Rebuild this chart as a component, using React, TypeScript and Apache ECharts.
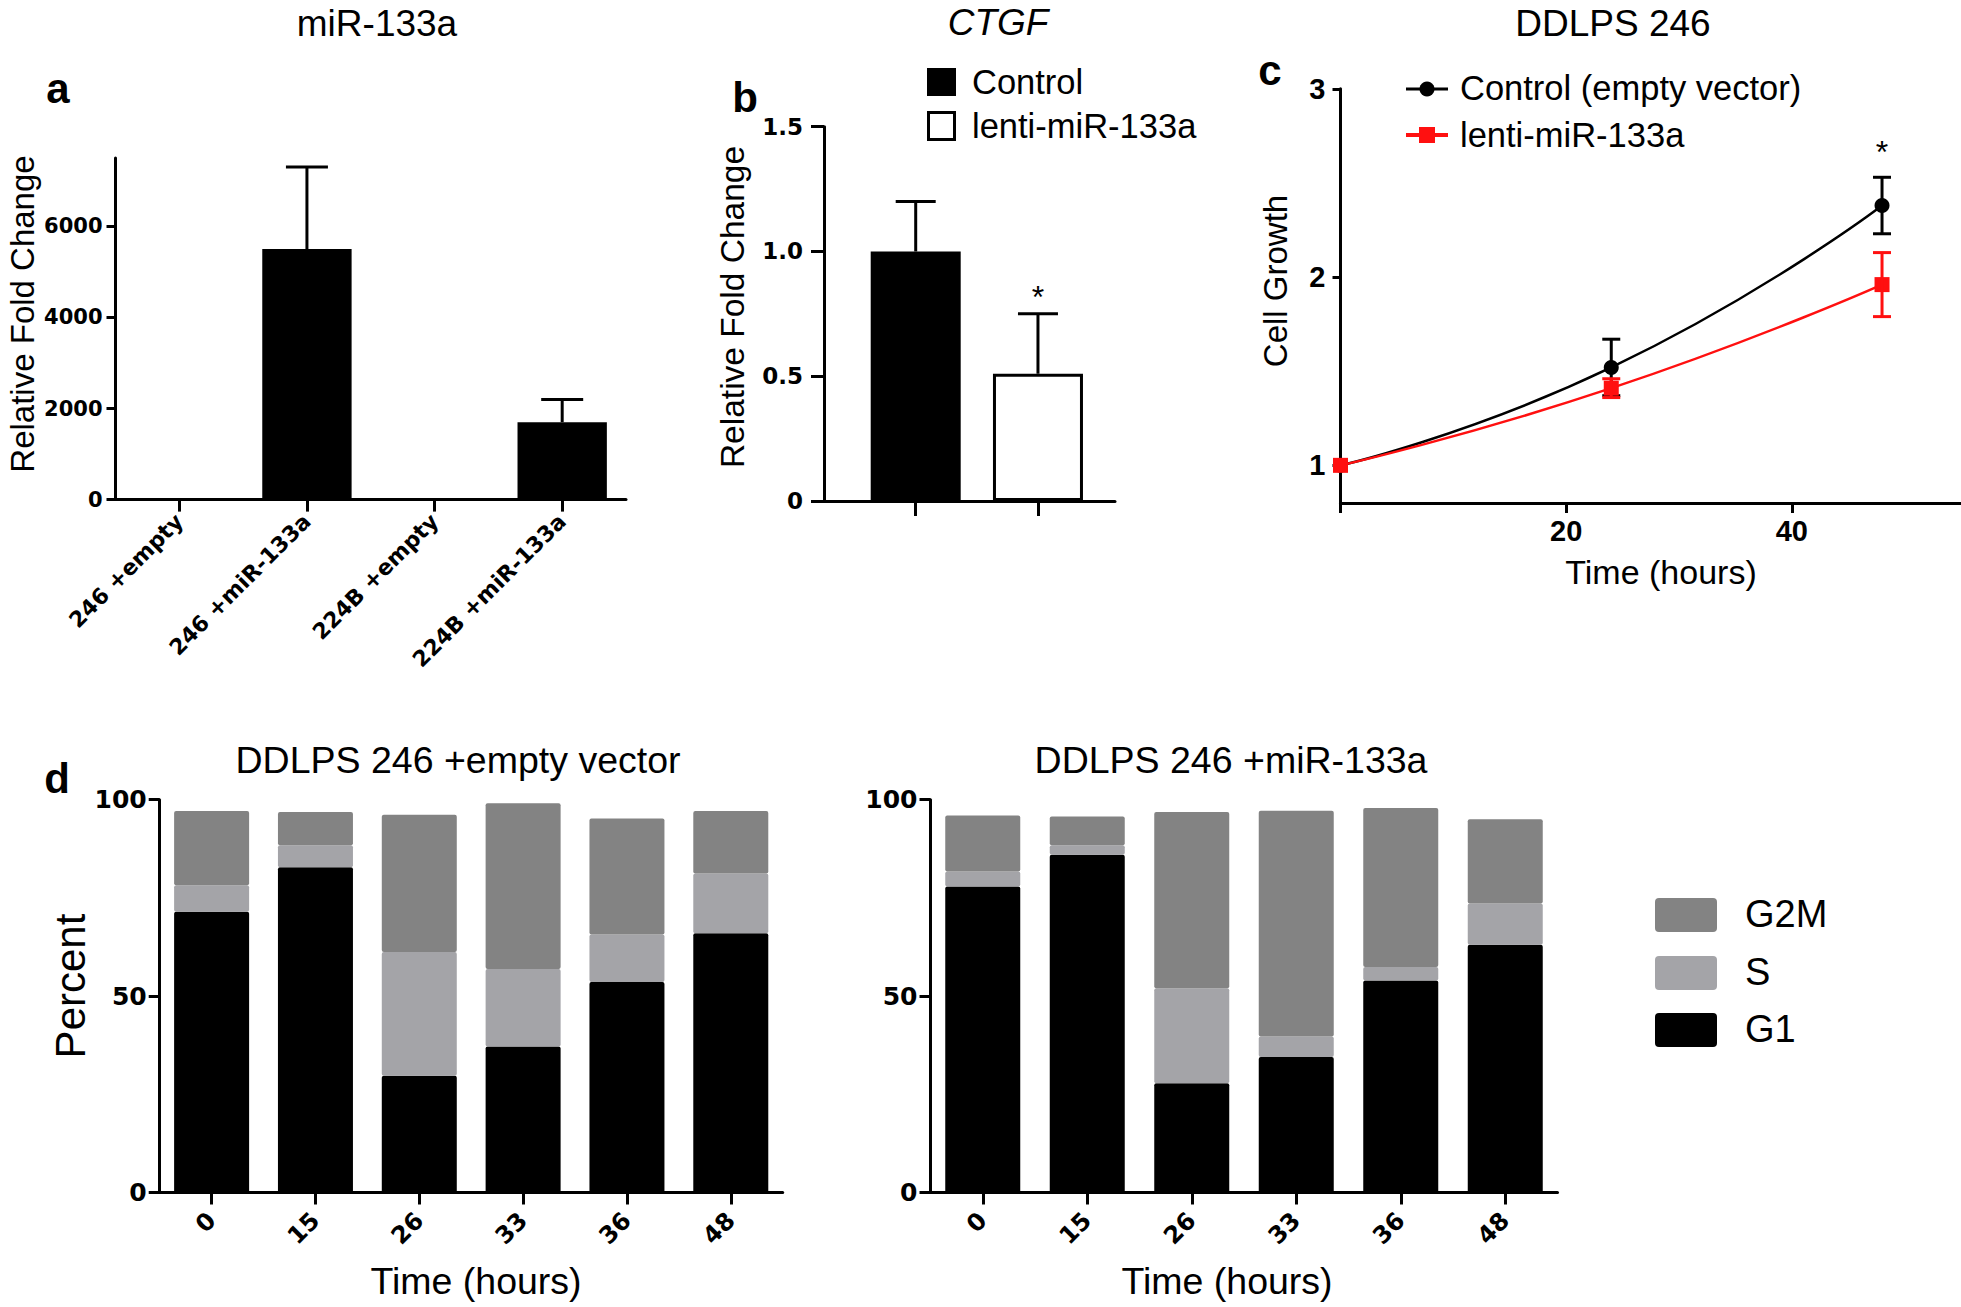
import React, { useEffect, useRef } from 'react';
import * as echarts from 'echarts';

// ---------- Panel a: miR-133a ----------
const aCategories = ['246 +empty', '246 +miR-133a', '224B +empty', '224B +miR-133a'];
const aMeans = [1, 5500, 1, 1700];
const aErrors = [0, 1800, 0, 500];
const aTicks = [0, 2000, 4000, 6000];

// ---------- Panel b: CTGF ----------
const bGroups = ['Control', 'lenti-miR-133a'];
const bPositions = [1, 2];
const bMeans = [1.0, 0.51];
const bErrors = [0.2, 0.24];
const bStars = [0, 1];

// ---------- Panel c: DDLPS 246 growth ----------
const cHours = [0, 24, 48];
const cControl = [1.0, 1.52, 2.38];
const cControlSd = [0, 0.15, 0.15];
const cLenti = [1.0, 1.41, 1.96];
const cLentiSd = [0, 0.05, 0.17];
const cControlStars = [0, 0, 1];
const cXTicks = [0, 20, 40];
const cXLabels = [20, 40];
const cYTicks = [1, 2, 3];

// ---------- Panel d: cell cycle ----------
const dHours = ['0', '15', '26', '33', '36', '48'];
const dEmptyG1 = [71.5, 82.8, 29.7, 37.2, 53.6, 66.0];
const dEmptyS = [6.7, 5.6, 31.5, 19.7, 12.1, 15.2];
const dEmptyG2M = [18.9, 8.5, 35.0, 42.2, 29.5, 15.9];
const dMirG1 = [77.9, 86.0, 27.8, 34.5, 54.0, 63.1];
const dMirS = [3.8, 2.4, 24.2, 5.2, 3.4, 10.5];
const dMirG2M = [14.3, 7.3, 44.9, 57.5, 40.5, 21.4];
const dPhases = ['G2M', 'S', 'G1'];
const dColors: Record<string, string> = { G2M: '#838383', S: '#a4a4a8', G1: '#000000' };

const FONT = '"Liberation Sans", Arial, Helvetica, sans-serif';
const NUMFONT = '"DejaVu Sans", sans-serif';
const RED = '#ff1010';

const axisLine = { show: true, onZero: false, lineStyle: { color: '#000', width: 3 } };
const tickStyle = { color: '#000', width: 3 };
const plain = (v: number) => String(v);
const numLabel = (size: number, margin: number) => ({
  color: '#000',
  fontFamily: NUMFONT,
  fontWeight: 'bold' as const,
  fontSize: size,
  margin,
});

function txt(text: string, x: number, y: number, size: number, o: any = {}) {
  return {
    type: 'text',
    x,
    y,
    rotation: o.rot || 0,
    z: 50,
    style: {
      text,
      fill: '#000',
      fontFamily: o.family || FONT,
      fontSize: size,
      fontWeight: o.bold ? 'bold' : 'normal',
      fontStyle: o.italic ? 'italic' : 'normal',
      align: o.align || 'center',
      verticalAlign: 'middle',
    },
  };
}

// upward error bar (mean + error) with cap, optional asterisk
const upErrorBar = (capHalf: number, starOffset: number) => (_p: any, api: any) => {
  const x = api.value(0);
  const m = api.value(1);
  const e = api.value(2);
  const star = api.value(3);
  const base = api.coord([x, m]);
  const top = api.coord([x, m + e]);
  const st = { stroke: '#000', lineWidth: 3 };
  const children: any[] = [
    { type: 'line', shape: { x1: base[0], y1: base[1], x2: top[0], y2: top[1] }, style: st },
    { type: 'line', shape: { x1: top[0] - capHalf, y1: top[1], x2: top[0] + capHalf, y2: top[1] }, style: st },
  ];
  if (star) {
    children.push({
      type: 'text',
      x: top[0],
      y: top[1] - starOffset,
      style: { text: '*', fill: '#000', fontFamily: FONT, fontSize: 32, align: 'center', verticalAlign: 'middle' },
    });
  }
  return { type: 'group', children };
};

// symmetric error bar (mean ± sd) with caps
const symErrorBar = (color: string, capHalf: number, starOffset: number) => (_p: any, api: any) => {
  const x = api.value(0);
  const m = api.value(1);
  const s = api.value(2);
  const star = api.value(3);
  const hi = api.coord([x, m + s]);
  const lo = api.coord([x, m - s]);
  const st = { stroke: color, lineWidth: 3 };
  const children: any[] = [
    { type: 'line', shape: { x1: hi[0], y1: hi[1], x2: lo[0], y2: lo[1] }, style: st },
    { type: 'line', shape: { x1: hi[0] - capHalf, y1: hi[1], x2: hi[0] + capHalf, y2: hi[1] }, style: st },
    { type: 'line', shape: { x1: lo[0] - capHalf, y1: lo[1], x2: lo[0] + capHalf, y2: lo[1] }, style: st },
  ];
  if (star) {
    children.push({
      type: 'text',
      x: hi[0],
      y: hi[1] - starOffset,
      style: { text: '*', fill: '#000', fontFamily: FONT, fontSize: 32, align: 'center', verticalAlign: 'middle' },
    });
  }
  return { type: 'group', children };
};

function buildOption(): any {
  const grids = [
    { left: 115.5, top: 158, width: 510.5, height: 341.6 },
    { left: 824, top: 126.7, width: 291, height: 374.3 },
    { left: 1340.5, top: 88.8, width: 620.5, height: 414.2 },
    { left: 159.7, top: 799.7, width: 623, height: 392.8 },
    { left: 930.5, top: 799.7, width: 627, height: 392.8 },
  ].map((g) => ({ ...g, outerBoundsMode: 'none', containLabel: false }));

  const xAxis = [
    {
      type: 'category',
      gridIndex: 0,
      data: aCategories,
      axisLine,
      axisTick: { show: true, alignWithLabel: true, length: 12, lineStyle: tickStyle },
      axisLabel: { ...numLabel(22, 18), rotate: 45, interval: 0 },
      splitLine: { show: false },
    },
    {
      type: 'value',
      gridIndex: 1,
      min: 0.25,
      max: 2.63,
      axisLine,
      axisTick: { show: true, customValues: bPositions, length: 15, lineStyle: tickStyle },
      axisLabel: { show: false },
      splitLine: { show: false },
    },
    {
      type: 'value',
      gridIndex: 2,
      min: 0,
      max: 55,
      axisLine,
      axisTick: { show: true, customValues: cXTicks, length: 10, lineStyle: tickStyle },
      axisLabel: {
        customValues: cXLabels,
        formatter: plain,
        color: '#000',
        fontFamily: FONT,
        fontWeight: 'bold',
        fontSize: 29,
        margin: 13,
      },
      splitLine: { show: false },
    },
    ...[3, 4].map((gi) => ({
      type: 'category',
      gridIndex: gi,
      data: dHours,
      axisLine,
      axisTick: { show: true, alignWithLabel: true, length: 12, lineStyle: tickStyle },
      axisLabel: { ...numLabel(24, 24), rotate: 45, interval: 0 },
      splitLine: { show: false },
    })),
  ];

  const yAxis = [
    {
      type: 'value',
      gridIndex: 0,
      min: 0,
      max: 7500,
      axisLine,
      axisTick: { show: true, customValues: aTicks, length: 9, lineStyle: tickStyle },
      axisLabel: { ...numLabel(21, 13), customValues: aTicks, formatter: plain },
      splitLine: { show: false },
    },
    {
      type: 'value',
      gridIndex: 1,
      min: 0,
      max: 1.5,
      interval: 0.5,
      axisLine,
      axisTick: { show: true, length: 13, lineStyle: tickStyle },
      axisLabel: { ...numLabel(23, 21), formatter: (v: number) => (v === 0 ? '0' : v.toFixed(1)) },
      splitLine: { show: false },
    },
    {
      type: 'value',
      gridIndex: 2,
      min: 0.8,
      max: 3,
      axisLine,
      axisTick: { show: true, customValues: cYTicks, length: 8, lineStyle: tickStyle },
      axisLabel: {
        customValues: cYTicks,
        formatter: plain,
        color: '#000',
        fontFamily: FONT,
        fontWeight: 'bold',
        fontSize: 29,
        margin: 15,
      },
      splitLine: { show: false },
    },
    ...[3, 4].map((gi) => ({
      type: 'value',
      gridIndex: gi,
      min: 0,
      max: 100,
      interval: 50,
      axisLine,
      axisTick: { show: true, length: 11, lineStyle: tickStyle },
      axisLabel: { ...numLabel(25, 13), formatter: plain },
      splitLine: { show: false },
    })),
  ];

  const series: any[] = [];

  // a
  series.push({
    name: 'miR-133a',
    type: 'bar',
    xAxisIndex: 0,
    yAxisIndex: 0,
    data: aMeans,
    barWidth: '70%',
    itemStyle: { color: '#000' },
  });
  series.push({
    name: 'miR-133a error',
    type: 'custom',
    xAxisIndex: 0,
    yAxisIndex: 0,
    z: 5,
    renderItem: upErrorBar(21, 15),
    data: aMeans.map((m, i) => [i, m, aErrors[i], 0]).filter((d) => d[2] > 0),
  });

  // b
  bGroups.forEach((g, i) => {
    series.push({
      name: g,
      type: 'bar',
      xAxisIndex: 1,
      yAxisIndex: 1,
      barWidth: 90,
      barGap: '-100%',
      data: [[bPositions[i], bMeans[i]]],
      itemStyle:
        i === 0 ? { color: '#000' } : { color: '#fff', borderColor: '#000', borderWidth: 3 },
    });
  });
  series.push({
    name: 'CTGF error',
    type: 'custom',
    xAxisIndex: 1,
    yAxisIndex: 1,
    z: 5,
    renderItem: upErrorBar(20, 17),
    data: bMeans.map((m, i) => [bPositions[i], m, bErrors[i], bStars[i]]),
  });

  // c
  series.push({
    name: 'Control (empty vector)',
    type: 'line',
    xAxisIndex: 2,
    yAxisIndex: 2,
    z: 2,
    smooth: 0.55,
    data: cHours.map((h, i) => [h, cControl[i]]),
    symbol: 'circle',
    symbolSize: 15,
    lineStyle: { color: '#000', width: 2.5 },
    itemStyle: { color: '#000' },
  });
  series.push({
    name: 'Control error',
    type: 'custom',
    xAxisIndex: 2,
    yAxisIndex: 2,
    z: 3,
    renderItem: symErrorBar('#000', 9, 25),
    data: cHours
      .map((h, i) => [h, cControl[i], cControlSd[i], cControlStars[i]])
      .filter((d) => d[2] > 0),
  });
  series.push({
    name: 'lenti-miR-133a growth',
    type: 'line',
    xAxisIndex: 2,
    yAxisIndex: 2,
    z: 4,
    smooth: 0.55,
    data: cHours.map((h, i) => [h, cLenti[i]]),
    symbol: 'rect',
    symbolSize: 15,
    lineStyle: { color: RED, width: 2.5 },
    itemStyle: { color: RED },
  });
  series.push({
    name: 'lenti error',
    type: 'custom',
    xAxisIndex: 2,
    yAxisIndex: 2,
    z: 5,
    renderItem: symErrorBar(RED, 9, 25),
    data: cHours.map((h, i) => [h, cLenti[i], cLentiSd[i], 0]).filter((d) => d[2] > 0),
  });

  // d
  const dSets = [
    { axis: 3, stack: 'empty', G1: dEmptyG1, S: dEmptyS, G2M: dEmptyG2M },
    { axis: 4, stack: 'mir', G1: dMirG1, S: dMirS, G2M: dMirG2M },
  ];
  dSets.forEach((set: any) => {
    ['G1', 'S', 'G2M'].forEach((ph) => {
      series.push({
        name: ph,
        type: 'bar',
        xAxisIndex: set.axis,
        yAxisIndex: set.axis,
        stack: set.stack,
        barWidth: 75,
        data: set[ph],
        itemStyle: { color: dColors[ph], borderRadius: 2 },
      });
    });
  });

  // texts and legends
  const graphic: any[] = [
    txt('miR-133a', 377, 23, 37),
    txt('CTGF', 998, 22, 37, { italic: true }),
    txt('DDLPS 246', 1613, 23, 37),
    txt('DDLPS 246 +empty vector', 458, 760, 37.5),
    txt('DDLPS 246 +miR-133a', 1231, 760, 37.5),
    txt('a', 58, 88, 42, { bold: true }),
    txt('b', 745, 97, 42, { bold: true }),
    txt('c', 1270, 70, 42, { bold: true }),
    txt('d', 57, 778, 42, { bold: true }),
    txt('Relative Fold Change', 22, 314, 33, { rot: Math.PI / 2 }),
    txt('Relative Fold Change', 732, 307, 33.5, { rot: Math.PI / 2 }),
    txt('Cell Growth', 1275, 281, 33, { rot: Math.PI / 2 }),
    txt('Time (hours)', 1661, 572, 34),
    txt('Percent', 70, 986, 42, { rot: Math.PI / 2 }),
    txt('Time (hours)', 476, 1281, 37.5),
    txt('Time (hours)', 1227, 1281, 37.5),
  ];

  // b legend
  graphic.push({ type: 'rect', shape: { x: 927, y: 68, width: 29, height: 28 }, style: { fill: '#000' } });
  graphic.push({
    type: 'rect',
    shape: { x: 928.5, y: 112.5, width: 26, height: 27 },
    style: { fill: '#fff', stroke: '#000', lineWidth: 3 },
  });
  graphic.push(txt(bGroups[0], 972, 82, 34.5, { align: 'left' }));
  graphic.push(txt(bGroups[1], 972, 126, 34.5, { align: 'left' }));

  // c legend
  graphic.push({ type: 'line', shape: { x1: 1406, y1: 89, x2: 1448, y2: 89 }, style: { stroke: '#000', lineWidth: 3 } });
  graphic.push({ type: 'circle', shape: { cx: 1427, cy: 89, r: 7.5 }, style: { fill: '#000' } });
  graphic.push({ type: 'line', shape: { x1: 1406, y1: 135, x2: 1448, y2: 135 }, style: { stroke: RED, lineWidth: 4 } });
  graphic.push({ type: 'rect', shape: { x: 1419, y: 127, width: 16, height: 16 }, style: { fill: RED } });
  graphic.push(txt('Control (empty vector)', 1460, 88, 34.5, { align: 'left' }));
  graphic.push(txt('lenti-miR-133a', 1460, 135, 34.5, { align: 'left' }));

  // d legend
  const swatchY = [898, 956, 1013];
  const textY = [914, 972, 1029];
  dPhases.forEach((ph, i) => {
    graphic.push({
      type: 'rect',
      shape: { x: 1655, y: swatchY[i], width: 62, height: 34, r: 4 },
      style: { fill: dColors[ph] },
    });
    graphic.push(txt(ph, 1745, textY[i], 38, { align: 'left' }));
  });

  return {
    animation: false,
    backgroundColor: '#fff',
    grid: grids,
    xAxis,
    yAxis,
    series,
    graphic,
  };
}

export default function App() {
  const ref = useRef<HTMLDivElement>(null);
  useEffect(() => {
    if (!ref.current) return;
    const chart = echarts.init(ref.current, null, { renderer: 'svg' });
    chart.setOption(buildOption());
    return () => chart.dispose();
  }, []);
  return (
    <div
      ref={ref}
      style={{ position: 'absolute', left: 0, top: 0, width: 1961, height: 1307, background: '#fff' }}
    />
  );
}
